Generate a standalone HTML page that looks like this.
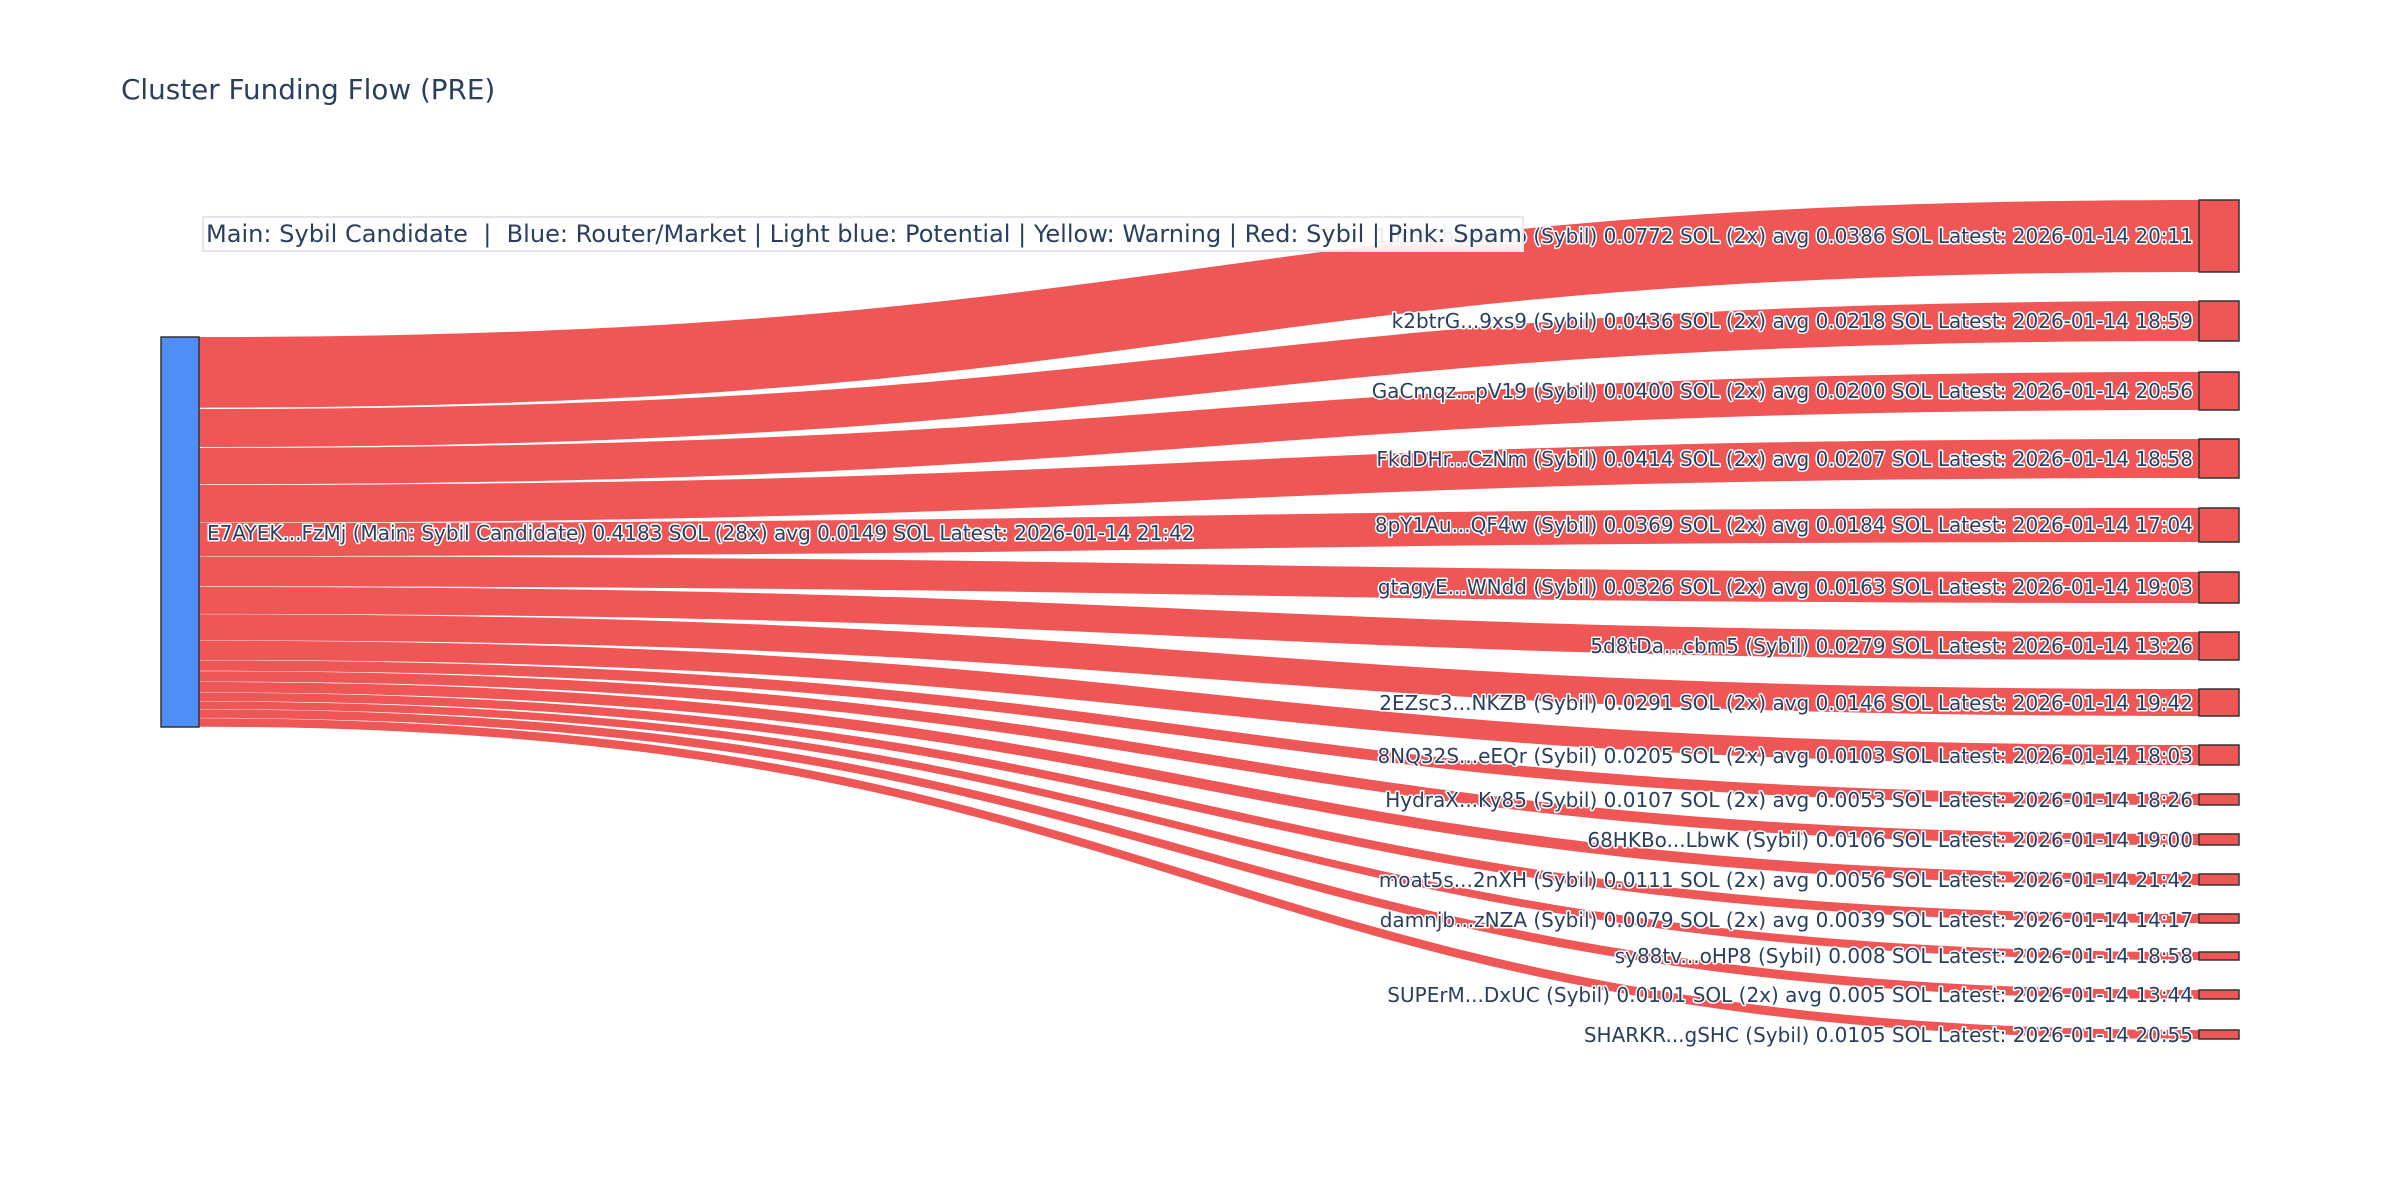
<!DOCTYPE html>
<html><head><meta charset="utf-8"><style>
html,body{margin:0;padding:0;background:#fff;}
svg{display:block;}
.lbl{font-family:"DejaVu Sans","Liberation Sans",sans-serif;font-size:20px;fill:#2a3f5f;paint-order:stroke;stroke:#fff;stroke-width:3px;stroke-linejoin:round;}
</style></head><body>
<svg width="2400" height="1200" viewBox="0 0 2400 1200" xmlns="http://www.w3.org/2000/svg">
<rect width="2400" height="1200" fill="#fff"/>
<text x="121" y="99" font-family="DejaVu Sans, Liberation Sans, sans-serif" font-size="27.8" fill="#2a3f5f">Cluster Funding Flow (PRE)</text>
<g fill="#ef5656">
<path d="M199,337 C1199,337 1199,200 2199,200 L2199,272 C1199,272 1199,407.7 199,407.7Z"/>
<path d="M199,409 C1199,409 1199,301 2199,301 L2199,341 C1199,341 1199,447 199,447Z"/>
<path d="M199,448 C1199,448 1199,372 2199,372 L2199,410 C1199,410 1199,484.3 199,484.3Z"/>
<path d="M199,485 C1199,485 1199,439 2199,439 L2199,478 C1199,478 1199,522.6 199,522.6Z"/>
<path d="M199,523 C1199,523 1199,508 2199,508 L2199,542 C1199,542 1199,556 199,556Z"/>
<path d="M199,556.5 C1199,556.5 1199,572 2199,572 L2199,603 C1199,603 1199,586.4 199,586.4Z"/>
<path d="M199,587 C1199,587 1199,632 2199,632 L2199,660 C1199,660 1199,613.9 199,613.9Z"/>
<path d="M199,614.3 C1199,614.3 1199,689 2199,689 L2199,716 C1199,716 1199,640.4 199,640.4Z"/>
<path d="M199,640.8 C1199,640.8 1199,745 2199,745 L2199,765 C1199,765 1199,660 199,660Z"/>
<path d="M199,660.4 C1199,660.4 1199,794 2199,794 L2199,805 C1199,805 1199,670.8 199,670.8Z"/>
<path d="M199,671.2 C1199,671.2 1199,834 2199,834 L2199,845 C1199,845 1199,681.6 199,681.6Z"/>
<path d="M199,682 C1199,682 1199,874 2199,874 L2199,885 C1199,885 1199,692.4 199,692.4Z"/>
<path d="M199,692.8 C1199,692.8 1199,914 2199,914 L2199,923 C1199,923 1199,701.2 199,701.2Z"/>
<path d="M199,701.6 C1199,701.6 1199,952 2199,952 L2199,960 C1199,960 1199,709.1 199,709.1Z"/>
<path d="M199,709.5 C1199,709.5 1199,990 2199,990 L2199,999 C1199,999 1199,717.9 199,717.9Z"/>
<path d="M199,718.3 C1199,718.3 1199,1030 2199,1030 L2199,1039 C1199,1039 1199,726.7 199,726.7Z"/>
</g>
<rect x="161" y="337" width="38" height="390" fill="#4f8ef7" stroke="#333" stroke-width="1.5"/>
<g fill="#ef5656" stroke="#333" stroke-width="1.5">
<rect x="2199" y="200" width="40" height="72"/>
<rect x="2199" y="301" width="40" height="40"/>
<rect x="2199" y="372" width="40" height="38"/>
<rect x="2199" y="439" width="40" height="39"/>
<rect x="2199" y="508" width="40" height="34"/>
<rect x="2199" y="572" width="40" height="31"/>
<rect x="2199" y="632" width="40" height="28"/>
<rect x="2199" y="689" width="40" height="27"/>
<rect x="2199" y="745" width="40" height="20"/>
<rect x="2199" y="794" width="40" height="11"/>
<rect x="2199" y="834" width="40" height="11"/>
<rect x="2199" y="874" width="40" height="11"/>
<rect x="2199" y="914" width="40" height="9"/>
<rect x="2199" y="952" width="40" height="8"/>
<rect x="2199" y="990" width="40" height="9"/>
<rect x="2199" y="1030" width="40" height="9"/>
</g>
<text class="lbl" x="207" y="540">E7AYEK...FzMj (Main: Sybil Candidate) 0.4183 SOL (28x) avg 0.0149 SOL Latest: 2026-01-14 21:42</text>
<g class="lbl" text-anchor="end">
<text class="lbl" x="2193" y="243">1dd9Gh...kAwb (Sybil) 0.0772 SOL (2x) avg 0.0386 SOL Latest: 2026-01-14 20:11</text>
<text class="lbl" x="2193" y="328">k2btrG...9xs9 (Sybil) 0.0436 SOL (2x) avg 0.0218 SOL Latest: 2026-01-14 18:59</text>
<text class="lbl" x="2193" y="398">GaCmqz...pV19 (Sybil) 0.0400 SOL (2x) avg 0.0200 SOL Latest: 2026-01-14 20:56</text>
<text class="lbl" x="2193" y="466">FkdDHr...CzNm (Sybil) 0.0414 SOL (2x) avg 0.0207 SOL Latest: 2026-01-14 18:58</text>
<text class="lbl" x="2193" y="532">8pY1Au...QF4w (Sybil) 0.0369 SOL (2x) avg 0.0184 SOL Latest: 2026-01-14 17:04</text>
<text class="lbl" x="2193" y="594">gtagyE...WNdd (Sybil) 0.0326 SOL (2x) avg 0.0163 SOL Latest: 2026-01-14 19:03</text>
<text class="lbl" x="2193" y="653">5d8tDa...cbm5 (Sybil) 0.0279 SOL Latest: 2026-01-14 13:26</text>
<text class="lbl" x="2193" y="710">2EZsc3...NKZB (Sybil) 0.0291 SOL (2x) avg 0.0146 SOL Latest: 2026-01-14 19:42</text>
<text class="lbl" x="2193" y="763">8NQ32S...eEQr (Sybil) 0.0205 SOL (2x) avg 0.0103 SOL Latest: 2026-01-14 18:03</text>
<text class="lbl" x="2193" y="807">HydraX...Ky85 (Sybil) 0.0107 SOL (2x) avg 0.0053 SOL Latest: 2026-01-14 18:26</text>
<text class="lbl" x="2193" y="847">68HKBo...LbwK (Sybil) 0.0106 SOL Latest: 2026-01-14 19:00</text>
<text class="lbl" x="2193" y="887">moat5s...2nXH (Sybil) 0.0111 SOL (2x) avg 0.0056 SOL Latest: 2026-01-14 21:42</text>
<text class="lbl" x="2193" y="927">damnjb...zNZA (Sybil) 0.0079 SOL (2x) avg 0.0039 SOL Latest: 2026-01-14 14:17</text>
<text class="lbl" x="2193" y="963">sy88tv...oHP8 (Sybil) 0.008 SOL Latest: 2026-01-14 18:58</text>
<text class="lbl" x="2193" y="1002">SUPErM...DxUC (Sybil) 0.0101 SOL (2x) avg 0.005 SOL Latest: 2026-01-14 13:44</text>
<text class="lbl" x="2193" y="1042">SHARKR...gSHC (Sybil) 0.0105 SOL Latest: 2026-01-14 20:55</text>
</g>
<rect x="203" y="217" width="1320" height="34" fill="rgba(255,255,255,0.9)" stroke="#e4e6ee" stroke-width="2"/>
<text x="206" y="242" font-family="DejaVu Sans, Liberation Sans, sans-serif" font-size="24" fill="#2a3f5f" xml:space="preserve" textLength="1316" lengthAdjust="spacingAndGlyphs">Main: Sybil Candidate  |  Blue: Router/Market | Light blue: Potential | Yellow: Warning | Red: Sybil | Pink: Spam</text>
</svg>
</body></html>
